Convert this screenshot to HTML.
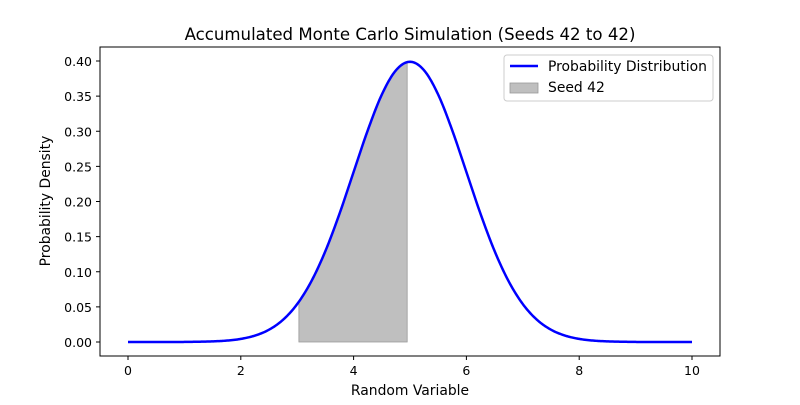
<!DOCTYPE html>
<html><head><meta charset="utf-8"><style>body{margin:0;background:#fff}svg{font-family:"DejaVu Sans","Liberation Sans",sans-serif}</style></head>
<body>
<svg id="chart" width="800" height="400" viewBox="0 0 800 400" xmlns="http://www.w3.org/2000/svg">
<rect width="800" height="400" fill="#fff"/>
<text x="410" y="40" font-size="16.6" text-anchor="middle">Accumulated Monte Carlo Simulation (Seeds 42 to 42)</text>
<g id="plot"></g>
<rect x="100" y="47" width="620" height="309" fill="none" stroke="#000" stroke-width="1"/>
<text x="410" y="395" font-size="13.9" text-anchor="middle">Random Variable</text>
<text transform="translate(50,201) rotate(-90)" font-size="13.9" text-anchor="middle">Probability Density</text>
<g>
<rect x="504" y="55" width="209" height="46" fill="#fff" stroke="#ccc" rx="3"/>
<line x1="510" y1="66" x2="538" y2="66" stroke="#0000ff" stroke-width="2.5"/>
<text x="548" y="71" font-size="13.9">Probability Distribution</text>
<rect x="510" y="83" width="28" height="10" fill="#bfbfbf" stroke="#999" stroke-width="0.8"/>
<text x="548" y="92" font-size="13.9">Seed 42</text>
</g>
</svg>
<script>
const xValues=[0,0.25,0.5,0.75,1,1.25,1.5,1.75,2,2.25,2.5,2.75,3,3.25,3.5,3.75,4,4.25,4.5,4.75,5,5.25,5.5,5.75,6,6.25,6.5,6.75,7,7.25,7.5,7.75,8,8.25,8.5,8.75,9,9.25,9.5,9.75,10];
const densityValues=[0,0,0.00002,0.00005,0.0001,0.0004,0.0009,0.002,0.0044,0.0091,0.0175,0.0317,0.054,0.0863,0.1295,0.1826,0.242,0.3011,0.3521,0.3867,0.3989,0.3867,0.3521,0.3011,0.242,0.1826,0.1295,0.0863,0.054,0.0317,0.0175,0.0091,0.0044,0.002,0.0009,0.0004,0.0001,0.00005,0.00002,0,0];
const shadeRange=[3.03,4.95];
const xTicks=[0,2,4,6,8,10];
const yTicks=[0,0.05,0.1,0.15,0.2,0.25,0.3,0.35,0.4];
const sx=v=>128+v*56.4, sy=v=>342-v*702.5;
const NS="http://www.w3.org/2000/svg", g=document.getElementById('plot');
function mk(t,a){const e=document.createElementNS(NS,t);for(const k in a)e.setAttribute(k,a[k]);g.appendChild(e);return e;}
function interp(x){
  const n=xValues.length;
  for(let i=0;i<n-1;i++){
    if(x>=xValues[i]&&x<=xValues[i+1]){
      const t=(x-xValues[i])/(xValues[i+1]-xValues[i]);
      const p0=densityValues[Math.max(i-1,0)],p1=densityValues[i],p2=densityValues[i+1],p3=densityValues[Math.min(i+2,n-1)];
      const t2=t*t,t3=t2*t;
      return 0.5*((2*p1)+(-p0+p2)*t+(2*p0-5*p1+4*p2-p3)*t2+(-p0+3*p1-3*p2+p3)*t3);
    }
  }
  return 0;
}
const x0=xValues[0],x1=xValues[xValues.length-1];
let curve=[];
for(let x=x0;x<=x1+1e-9;x+=0.02)curve.push([x,interp(Math.min(x,x1))]);
let pts=[[shadeRange[0],0]];
for(let x=shadeRange[0];x<shadeRange[1];x+=0.02)pts.push([x,interp(x)]);
pts.push([shadeRange[1],interp(shadeRange[1])],[shadeRange[1],0]);
const sh=mk('polygon',{points:pts.map(p=>sx(p[0]).toFixed(2)+','+sy(p[1]).toFixed(2)).join(' '),fill:'#bfbfbf',stroke:'#999','stroke-width':0.8});


const ln=mk('polyline',{points:curve.map(p=>sx(p[0]).toFixed(2)+','+sy(p[1]).toFixed(2)).join(' '),fill:'none',stroke:'#0000ff','stroke-width':2.5,'stroke-linejoin':'round'});


xTicks.forEach(t=>{mk('line',{x1:sx(t),x2:sx(t),y1:356,y2:360,stroke:'#000'});const tx=mk('text',{x:sx(t),y:375,'font-size':12.5,'text-anchor':'middle'});tx.textContent=t;});
yTicks.forEach(t=>{mk('line',{x1:96,x2:100,y1:sy(t),y2:sy(t),stroke:'#000'});const tx=mk('text',{x:92,y:sy(t)+5,'font-size':12.5,'text-anchor':'end'});tx.textContent=t.toFixed(2);});
</script>
</body></html>
